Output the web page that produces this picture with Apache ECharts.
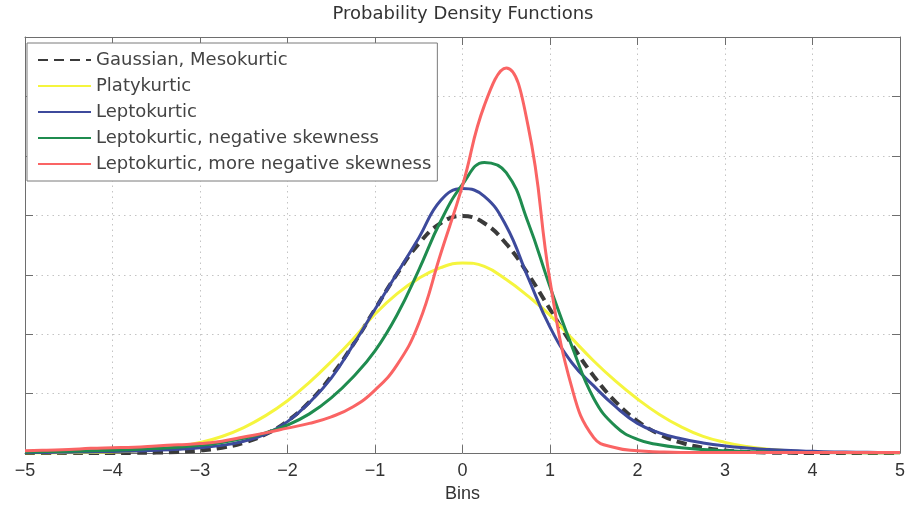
<!DOCTYPE html>
<html>
<head>
<meta charset="utf-8">
<script src="https://cdn.jsdelivr.net/npm/echarts@6/dist/echarts.min.js"></script>
<style>html,body{margin:0;padding:0;background:#fff;}#c{width:908px;height:508px;}</style>
</head>
<body>
<div id="c"></div>
<script>
const xs = [-5,-4.75,-4.5,-4.25,-4,-3.75,-3.5,-3.25,-3,-2.75,-2.5,-2.25,-2,-1.75,-1.5,-1.25,-1,-0.75,-0.5,-0.25,0,0.25,0.5,0.75,1,1.25,1.5,1.75,2,2.25,2.5,2.75,3,3.25,3.5,3.75,4,4.25,4.5,4.75,5];
const xTicks = [-5,-4,-3,-2,-1,0,1,2,3,4,5];
const seriesNames = ['Gaussian, Mesokurtic','Platykurtic','Leptokurtic','Leptokurtic, negative skewness','Leptokurtic, more negative skewness'];
const gaussian = [0,0,0,0,0.0001,0.0004,0.0009,0.002,0.0044,0.0091,0.0175,0.0317,0.054,0.0863,0.1295,0.1826,0.242,0.3011,0.3521,0.3867,0.3989,0.3867,0.3521,0.3011,0.242,0.1826,0.1295,0.0863,0.054,0.0317,0.0175,0.0091,0.0044,0.002,0.0009,0.0004,0.0001,0,0,0,0];
const platy = [0.0001,0.0002,0.0005,0.001,0.0019,0.0035,0.0063,0.011,0.018,0.028,0.043,0.063,0.088,0.119,0.154,0.192,0.234,0.268,0.294,0.312,0.32,0.314,0.292,0.264,0.232,0.193,0.155,0.121,0.091,0.065,0.044,0.028,0.018,0.011,0.0063,0.0035,0.0019,0.001,0.0005,0.0002,0.0001];
const lepto = [0.001,0.0012,0.0015,0.002,0.0026,0.0035,0.0048,0.0065,0.009,0.013,0.02,0.032,0.053,0.085,0.126,0.182,0.242,0.302,0.362,0.425,0.445,0.432,0.382,0.295,0.212,0.152,0.113,0.078,0.05,0.034,0.024,0.017,0.012,0.0085,0.006,0.0042,0.003,0.002,0.0015,0.001,0.0008];
const leptoSkew = [0.002,0.0025,0.003,0.0038,0.0048,0.006,0.0078,0.01,0.013,0.018,0.025,0.034,0.047,0.066,0.093,0.128,0.172,0.232,0.308,0.39,0.452,0.489,0.472,0.388,0.28,0.18,0.092,0.045,0.023,0.014,0.009,0.006,0.004,0.0027,0.0018,0.0012,0.0008,0.0005,0.0004,0.0003,0.0002];
const leptoSkew2 = [0.004,0.005,0.006,0.008,0.009,0.01,0.012,0.014,0.016,0.02,0.027,0.034,0.042,0.05,0.061,0.078,0.106,0.148,0.218,0.335,0.45,0.585,0.648,0.55,0.29,0.11,0.026,0.009,0.004,0.002,0.001,0.001,0.001,0.001,0.001,0.001,0.001,0.001,0.001,0.001,0.001];

const allValues = [gaussian, platy, lepto, leptoSkew, leptoSkew2];
const colors = ['#3a3a3a','#f5f53e','#3d4a9c','#1f8c4f','#fa6464'];

const pairs = arr => xs.map((x, i) => [x, arr[i]]);
const fmt = v => (v < 0 ? '\u2212' + Math.abs(v) : String(v));
const font = '"Liberation Sans", Arial, Helvetica, sans-serif';
const wide = '"DejaVu Sans", "Liberation Sans", sans-serif';
const gridLine = { show: true, lineStyle: { color: '#c4c4c4', width: 1, type: [1.5, 4] } };
const frameLine = { show: true, onZero: false, lineStyle: { color: '#6e6e6e', width: 1 } };
const tick = { show: true, inside: true, length: 8, lineStyle: { color: '#6e6e6e' } };

const series = allValues.map((arr, i) => ({
  name: seriesNames[i],
  type: 'line',
  xAxisIndex: 0, yAxisIndex: 0,
  data: pairs(arr),
  smooth: 0.45,
  symbol: 'none',
  showSymbol: false,
  lineStyle: i === 0 ? { color: colors[i], width: 4, type: [10, 6] } : { color: colors[i], width: 3 },
  itemStyle: { color: colors[i] },
  z: 2 + i
}));

const chart = echarts.init(document.getElementById('c'), null, { renderer: 'canvas' });
chart.setOption({
  animation: false,
  backgroundColor: '#fff',
  textStyle: { fontFamily: font },
  title: {
    text: 'Probability Density Functions',
    left: 463, top: 5, textAlign: 'center', padding: 0,
    textStyle: { fontSize: 18, fontWeight: 'normal', color: '#333', fontFamily: wide }
  },
  legend: {
    orient: 'vertical', left: 27, top: 43,
    padding: [8, 6, 8, 10], itemGap: 8, itemWidth: 53, itemHeight: 18,
    backgroundColor: '#fff', borderColor: '#7a7a7a', borderWidth: 1,
    itemStyle: { opacity: 0 },
    textStyle: { fontSize: 18, color: '#444', fontFamily: wide },
    data: seriesNames
  },
  grid: { left: 25, right: 7, top: 37, bottom: 52, containLabel: false },
  xAxis: [
    { type: 'value', min: -5, max: 5, interval: 1, position: 'bottom',
      name: 'Bins', nameLocation: 'middle', nameGap: 28,
      nameTextStyle: { fontSize: 18, color: '#333', fontFamily: font },
      axisLine: frameLine, axisTick: tick,
      axisLabel: { show: true, margin: 9, fontSize: 18, color: '#333', fontFamily: font, formatter: fmt },
      splitLine: gridLine },
    { type: 'value', min: -5, max: 5, interval: 1, position: 'top',
      axisLine: frameLine, axisTick: tick,
      axisLabel: { show: false }, splitLine: { show: false } }
  ],
  yAxis: [
    { type: 'value', min: 0, max: 0.7, interval: 0.1, position: 'left',
      axisLine: frameLine, axisTick: tick,
      axisLabel: { show: false }, splitLine: gridLine },
    { type: 'value', min: 0, max: 0.7, interval: 0.1, position: 'right',
      axisLine: frameLine, axisTick: tick,
      axisLabel: { show: false }, splitLine: { show: false } }
  ],
  series: series
});
</script>
</body>
</html>
